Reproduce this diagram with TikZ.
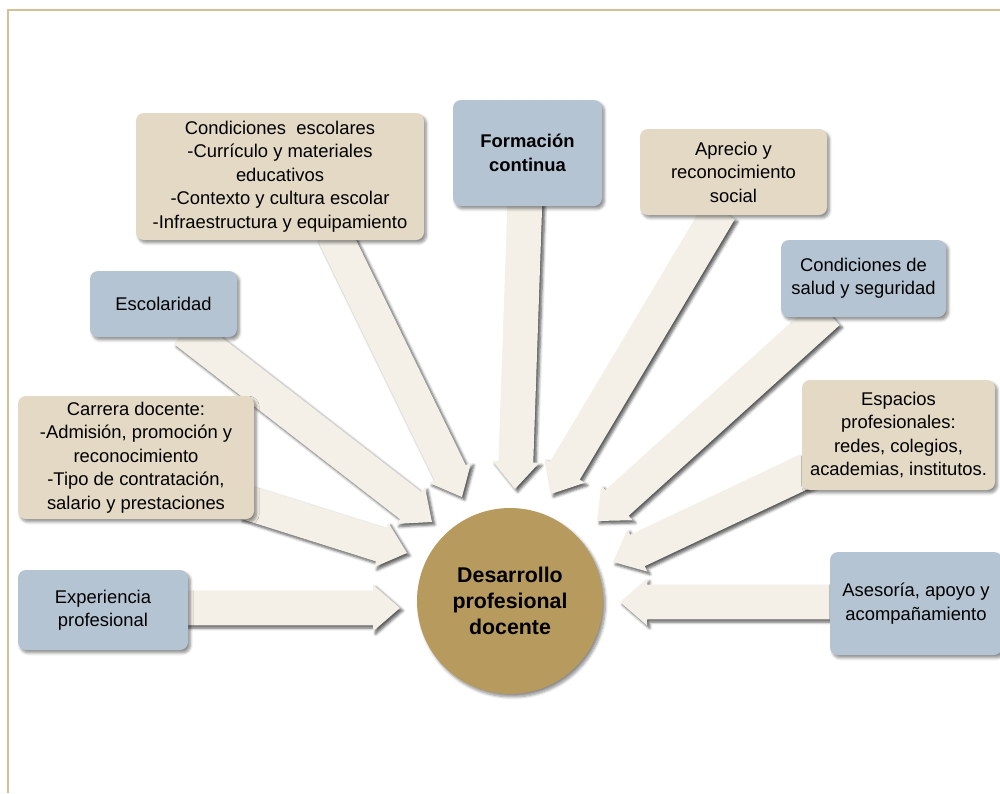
\documentclass[tikz,border=0pt]{standalone}
\usepackage{fontspec}
\setmainfont{Liberation Sans}
\usetikzlibrary{calc,shadows.blur}
\definecolor{boxtan}{HTML}{E3D9C4}
\definecolor{boxblue}{HTML}{B5C4D3}
\definecolor{arrowfill}{HTML}{F4F0E8}
\definecolor{hubfill}{HTML}{B69A5E}
\definecolor{rimcolor}{HTML}{D5C096}
\pgfdeclarelayer{bg}
\pgfsetlayers{bg,main}
% block arrow geometry: half shaft width, half head width, head length
\newcommand\shaftw{13pt}
\newcommand\headw{17.5pt}
\newcommand\headlen{20.25pt}
% #1 = name, #2 = start coordinate, #3 = tip coordinate
\newcommand\blockarrow[3]{%
  \coordinate (#1n) at ($(#3)!\headlen!(#2)$);
  \path[arrowbody] ($(#2)!\shaftw!90:(#3)$) -- ($(#1n)!\shaftw!90:(#3)$)
    -- ($(#1n)!\headw!90:(#3)$) -- (#3) -- ($(#1n)!\headw!-90:(#3)$)
    -- ($(#1n)!\shaftw!-90:(#3)$) -- ($(#2)!\shaftw!-90:(#3)$) -- cycle;
}
\begin{document}
\begin{tikzpicture}[x=0.75pt,y=-0.75pt,
  softshadow/.style={blur shadow={shadow xshift=1.8pt,shadow yshift=-2.2pt,
      shadow blur steps=6,shadow opacity=45}},
  arrowshadow/.style={blur shadow={shadow xshift=2pt,shadow yshift=-2pt,
      shadow blur steps=5,shadow opacity=65}},
  item/.style={rounded corners=6pt, inner sep=0pt, align=center,
      font=\fontsize{13.8}{17.6}\selectfont, softshadow},
  tanbox/.style={item, fill=boxtan},
  bluebox/.style={item, fill=boxblue},
  size/.style 2 args={minimum width=#1*0.75pt, minimum height=#2*0.75pt},
  arrowbody/.style={fill=arrowfill, arrowshadow},
]
\useasboundingbox (0,0) rectangle (1000,793);
\draw[rimcolor, line width=1.5pt] (8,793) -- (8,10) -- (1000,10);

% surrounding factors
\node[tanbox, size={288}{127}] (esc) at (280,176.5)
  {Condiciones\ \ escolares\\-Currículo y materiales\\educativos\\-Contexto y cultura escolar\\-Infraestructura y equipamiento};
\node[bluebox, size={149}{106}, font=\bfseries\fontsize{13.8}{17.6}\selectfont] (form) at (527.5,153)
  {Formación\\continua};
\node[tanbox, size={187}{86}] (apr) at (733.5,172)
  {Aprecio y\\reconocimiento\\social};
\node[bluebox, size={165}{77}] (salud) at (863.5,278.5)
  {Condiciones de\\salud y seguridad};
\node[bluebox, size={147}{66}] (escol) at (163.5,304)
  {Escolaridad};
\node[tanbox, size={193}{110}] (esp) at (898.5,435)
  {Espacios\\profesionales:\\redes, colegios,\\academias, institutos.};
\node[tanbox, size={236}{123}] (carr) at (136,457.5)
  {Carrera docente:\\-Admisión, promoción y\\reconocimiento\\-Tipo de contratación,\\salario y prestaciones};
\node[bluebox, size={170}{80}] (exp) at (103,610)
  {Experiencia\\profesional};
\node[bluebox, size={172}{103}] (ases) at (916,603.5)
  {Asesoría, apoyo y\\acompañamiento};

% central hub
\node[circle, fill=hubfill, inner sep=0pt, minimum size=186*0.75pt, softshadow,
  align=center, font=\bfseries\fontsize{16}{19.5}\selectfont] (hub) at (510,601)
  {Desarrollo\\profesional\\docente};

% arrow start points on the boxes and tips around the hub
\coordinate (sA) at ([shift={(53,-8)}]esc.south);
\coordinate (sB) at ([shift={(-2.5,-6)}]form.south);
\coordinate (sC) at ([shift={(-13.5,-5)}]apr.south);
\coordinate (sD) at ([shift={(-35.5,-5)}]salud.south);
\coordinate (sE) at ([shift={(21,-7)}]escol.south);
\coordinate (sF) at ([shift={(-9,44.5)}]carr.east);
\coordinate (sG) at ([shift={(-8,-2)}]exp.east);
\coordinate (sH) at ([shift={(6,35)}]esp.west);
\coordinate (sI) at ([shift={(8,-1.5)}]ases.west);
\coordinate (tA) at (462,497);
\coordinate (tB) at (515,489);
\coordinate (tC) at (551,494);
\coordinate (tD) at (597,521);
\coordinate (tE) at (432,522);
\coordinate (tF) at (407,553);
\coordinate (tG) at (400,608);
\coordinate (tH) at (613,562);
\coordinate (tI) at (620,602);

\begin{pgfonlayer}{bg}
  \blockarrow{aE}{sE}{tE}
  \blockarrow{aF}{sF}{tF}
  \blockarrow{aG}{sG}{tG}
  \blockarrow{aA}{sA}{tA}
  \blockarrow{aB}{sB}{tB}
  \blockarrow{aC}{sC}{tC}
  \blockarrow{aD}{sD}{tD}
  \blockarrow{aH}{sH}{tH}
  \blockarrow{aI}{sI}{tI}
\end{pgfonlayer}
\end{tikzpicture}
\end{document}
